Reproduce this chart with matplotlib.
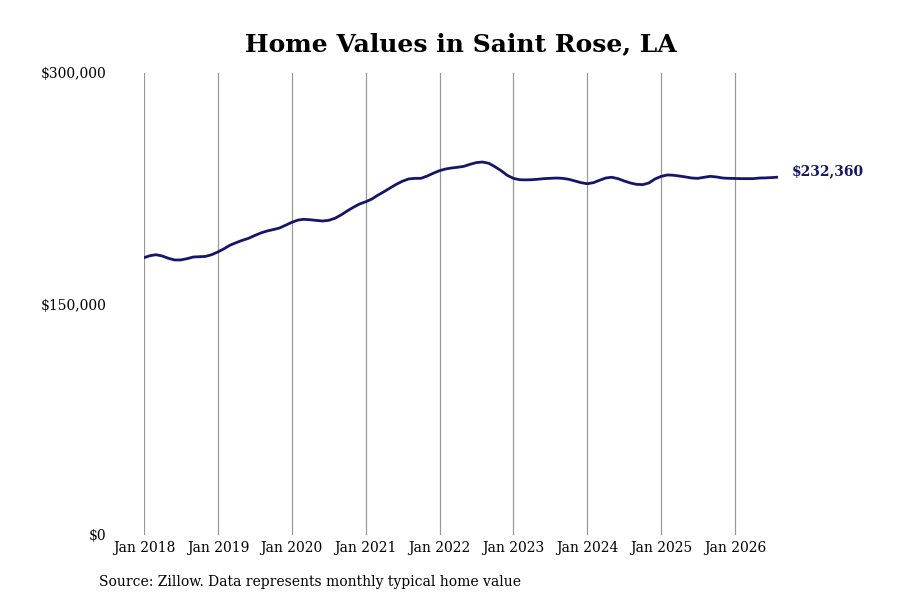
import matplotlib
matplotlib.use("Agg")
import matplotlib.pyplot as plt
import matplotlib.dates as mdates
import pandas as pd

# monthly typical home value, Jan 2018 .. Aug 2026
values_2018 = [180100, 181400, 182000, 181200, 179700, 178600, 178600, 179400, 180500, 180700, 180900, 182000]
values_2019 = [183800, 185900, 188100, 189800, 191300, 192600, 194400, 196100, 197400, 198300, 199300, 201100]
values_2020 = [203000, 204500, 205000, 204700, 204300, 203900, 204300, 205600, 207800, 210400, 212800, 214900]
values_2021 = [216400, 218200, 220600, 222900, 225300, 227700, 229700, 231200, 231600, 231600, 233100, 234900]
values_2022 = [236600, 237700, 238300, 238800, 239400, 240700, 241800, 242200, 241400, 239200, 236600, 233600]
values_2023 = [231600, 230700, 230600, 230700, 231000, 231400, 231600, 231800, 231600, 231000, 229900, 228800]
values_2024 = [228100, 228800, 230300, 231800, 232300, 231400, 229900, 228600, 227700, 227500, 228600, 231200]
values_2025 = [232900, 233800, 233600, 233100, 232500, 231800, 231600, 232300, 232900, 232500, 231800, 231600]
values_2026 = [231500, 231400, 231400, 231400, 231800, 231900, 232100, 232360]

values = (values_2018 + values_2019 + values_2020 + values_2021 + values_2022
          + values_2023 + values_2024 + values_2025 + values_2026)
dates = pd.date_range("2018-01-01", periods=len(values), freq="MS")

tick_years = list(range(2018, 2027))
y_ticks = [0, 150000, 300000]
y_labels = ["$0", "$150,000", "$300,000"]
end_label = "$232,360"

line_color = "#15156b"

plt.rcParams["font.family"] = "DejaVu Serif"

fig = plt.figure(figsize=(9, 6), dpi=100)
ax = fig.add_axes([144/900, 1 - 535/600, (778 - 144)/900, (535 - 73)/600])

ax.plot(dates, values, color=line_color, linewidth=2.0, solid_capstyle="round")

ax.set_xlim(dates[0], dates[-1])
ax.set_ylim(0, 300000)

ax.set_xticks([pd.Timestamp(f"{y}-01-01") for y in tick_years])
ax.xaxis.set_major_formatter(mdates.DateFormatter("Jan %Y"))
ax.set_yticks(y_ticks)
ax.set_yticklabels(y_labels)

ax.tick_params(axis="x", length=0, pad=4, labelsize=10)
ax.tick_params(axis="y", length=0, pad=27, labelsize=10)

ax.grid(axis="x", color="#999999", linewidth=0.9)
ax.grid(axis="y", visible=False)
for s in ax.spines.values():
    s.set_visible(False)

ax.annotate(end_label, xy=(dates[-1], values[-1]), xytext=(10, 4),
            textcoords="offset points", ha="left", va="center",
            fontsize=10, fontweight="bold", color=line_color)

fig.text(461/900, 1 - 44/600, "Home Values in Saint Rose, LA",
         ha="center", va="center", fontsize=18, fontweight="bold")
fig.text(99/900, 1 - 582/600, "Source: Zillow. Data represents monthly typical home value",
         ha="left", va="center", fontsize=10)

fig.savefig("out.png", dpi=100)
